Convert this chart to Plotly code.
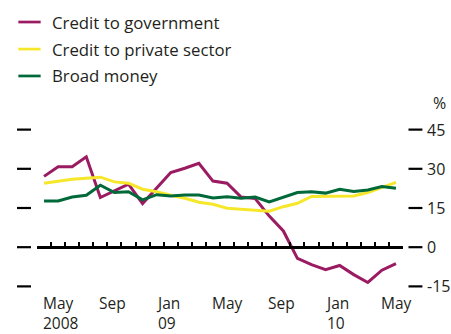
####################################################################################################################
# plot.py
#
# Credit and broad money growth, May 2008 - Jun 2010 (percent, year on year)

import plotly.graph_objects as go

####################################################################################################################
# DATA

months = ['May 2008', 'Jun 2008', 'Jul 2008', 'Aug 2008', 'Sep 2008', 'Oct 2008', 'Nov 2008', 'Dec 2008',
          'Jan 2009', 'Feb 2009', 'Mar 2009', 'Apr 2009', 'May 2009', 'Jun 2009', 'Jul 2009', 'Aug 2009',
          'Sep 2009', 'Oct 2009', 'Nov 2009', 'Dec 2009', 'Jan 2010', 'Feb 2010', 'Mar 2010', 'Apr 2010',
          'May 2010', 'Jun 2010']

credit_government = [27.1, 30.8, 30.8, 34.6, 19.0, 21.5, 24.1, 16.7, 22.5, 28.6, 30.2, 32.1, 25.3,
                     24.5, 19.2, 18.6, 11.9, 6.2, -4.3, -6.7, -8.6, -7.0, -10.5, -13.5, -8.8, -6.3]
credit_private = [24.5, 25.2, 26.0, 26.4, 26.8, 25.0, 24.5, 22.2, 21.2, 19.9, 18.7, 17.2, 16.4,
                  14.9, 14.5, 14.2, 13.8, 15.5, 16.8, 19.4, 19.4, 19.6, 19.6, 20.9, 22.8, 24.8]
broad_money = [17.7, 17.7, 19.2, 19.9, 23.7, 20.9, 21.2, 18.1, 20.1, 19.6, 20.0, 20.0, 18.8,
               19.3, 18.7, 19.2, 17.3, 19.0, 20.9, 21.2, 20.7, 22.2, 21.3, 21.9, 23.2, 22.6]

series_names = ['Credit to government', 'Credit to private sector', 'Broad money']
series_colors = ['#9B1B62', '#F6E72B', '#00693A']

y_ticks = [45, 30, 15, 0, -15]
x_label_idx = [0, 4, 8, 12, 16, 20, 24]
x_labels = ['May', 'Sep', 'Jan', 'May', 'Sep', 'Jan', 'May']
x_years = ['2008', '', '09', '', '', '10', '']

####################################################################################################################
# FIGURE

FONT = dict(family='Open Sans', size=16, color='#231F20')
XLAB_FONT = dict(family='Open Sans', size=15.5, color='#231F20')
LEGEND_FONT = dict(family='Open Sans', size=16.8, color='#231F20')
Y_MIN, Y_MAX = -16, 46

fig = go.Figure()

# points sit in the middle of each month slot
x_pos = [i + 0.5 for i in range(len(months))]
for name, values, color in zip(series_names, [credit_government, credit_private, broad_money], series_colors):
    fig.add_trace(go.Scatter(x=x_pos, y=values, mode='lines', name=name,
                             line=dict(color=color, width=3), showlegend=False,
                             hovertext=months))

# hand-drawn legend, one row per series
legend_y = [1.648, 1.481, 1.315]
for name, color, ly in zip(series_names, series_colors, legend_y):
    fig.add_shape(type='line', xref='paper', yref='paper', x0=-0.051, x1=0.010, y0=ly, y1=ly,
                  line=dict(color=color, width=2.7))
    fig.add_annotation(text=name, xref='paper', yref='paper', x=0.036, y=ly, xanchor='left',
                       yanchor='middle', showarrow=False, font=LEGEND_FONT)

# short tick bars on both sides + labels on the right
for v in y_ticks:
    fig.add_shape(type='line', xref='paper', yref='y', x0=-0.0546, x1=-0.0164, y0=v, y1=v,
                  line=dict(color='black', width=2.2))
    fig.add_shape(type='line', xref='paper', yref='y', x0=1.015, x1=1.053, y0=v, y1=v,
                  line=dict(color='black', width=2.2))
    fig.add_annotation(text=str(v), xref='paper', yref='y', x=1.060, y=v, xanchor='left',
                       yanchor='middle', showarrow=False, font=FONT)

fig.add_annotation(text='%', xref='paper', yref='paper', x=1.122, y=1.148, xanchor='right',
                   yanchor='middle', showarrow=False, font=FONT)

# month (+ year) labels, left-aligned on the data point, one annotation per label
for i, lab, yr in zip(x_label_idx, x_labels, x_years):
    txt = lab + ('<br>' + yr if yr else '')
    fig.add_annotation(text=txt, x=i + 0.5, yref='paper', y=-0.012, xanchor='left', yanchor='top',
                       align='left', xshift=-2, borderpad=0, showarrow=False, font=XLAB_FONT)

# layout configuration
fig.update_layout(width=451, height=334, margin=dict(l=37, r=48, t=127, b=45),
                  paper_bgcolor='white', plot_bgcolor='white', font=FONT)
fig.update_xaxes(range=[0, len(months)], anchor='free', position=(0 - Y_MIN) / (Y_MAX - Y_MIN),
                 showline=True, linecolor='black', linewidth=3, ticks='inside', ticklen=4,
                 tickwidth=2, tickcolor='black', tick0=0, dtick=1, showticklabels=False,
                 showgrid=False, zeroline=False)
fig.update_yaxes(range=[Y_MIN, Y_MAX], visible=False, showgrid=False, zeroline=False)

# drop the browser's default 8px body margin so the figure sits at the page corner
fig.write_html('out.html', config={'displayModeBar': False},
               post_script="document.body.style.margin='0';")
